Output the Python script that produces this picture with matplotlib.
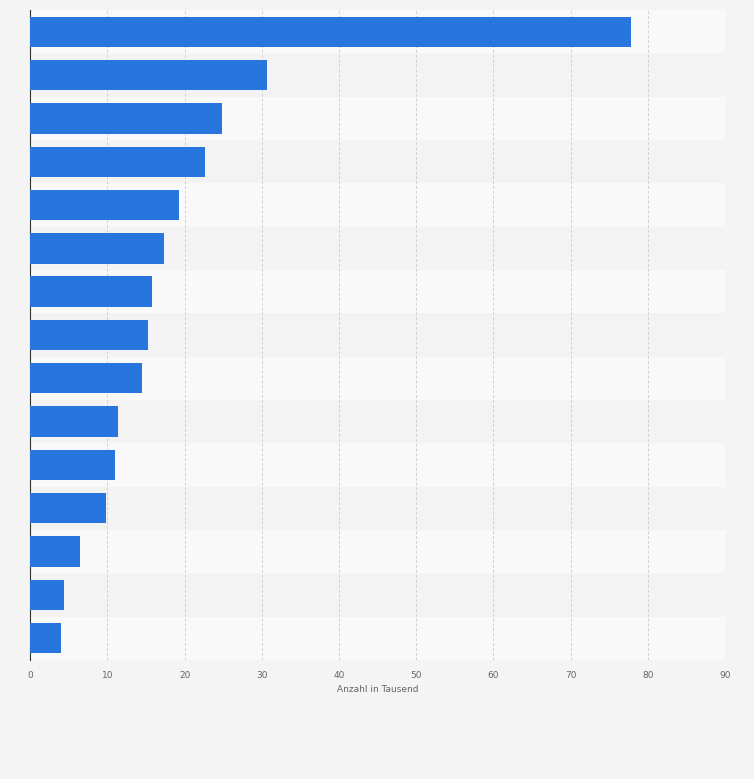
import matplotlib
matplotlib.use("Agg")
import matplotlib.pyplot as plt
import numpy as np

categories = [f"Kategorie {i+1}" for i in range(15)]
values = [77.8, 30.7, 24.9, 22.6, 19.3, 17.4, 15.8, 15.2, 14.5, 11.4, 11.0, 9.8, 6.5, 4.4, 4.0]
xticks = [0, 10, 20, 30, 40, 50, 60, 70, 80, 90]

fig = plt.figure(figsize=(7.54, 7.79), dpi=100)
fig.patch.set_facecolor("#f4f4f4")
ax = fig.add_axes([0.04, 0.153, 0.9215, 0.834])
ax.set_facecolor("#f4f4f4")
n = len(values)
y = np.arange(n)
for i in range(n):
    ax.axhspan(i - 0.5, i + 0.5, color="#f9f9f9" if i % 2 == 0 else "#f3f3f3", zorder=0, lw=0)
ax.barh(y, values, height=0.7, color="#2876dd", zorder=3)
ax.set_ylim(n - 0.5, -0.5)
ax.set_xlim(0, 90)
ax.set_xticks(xticks)
ax.set_xticklabels([str(t) for t in xticks], fontsize=6.5, color="#666666")
ax.set_yticks([])
ax.grid(axis="x", color="#d0d0d0", linestyle=(0, (3, 2)), lw=0.7, zorder=1)
for s in ["top", "right", "bottom"]:
    ax.spines[s].set_visible(False)
ax.spines["left"].set_color("#333333")
ax.tick_params(axis="x", length=0, pad=8)
ax.set_xlabel("Anzahl in Tausend", fontsize=6.5, color="#666666", labelpad=4)
fig.savefig("out.png", dpi=100, facecolor=fig.get_facecolor())
